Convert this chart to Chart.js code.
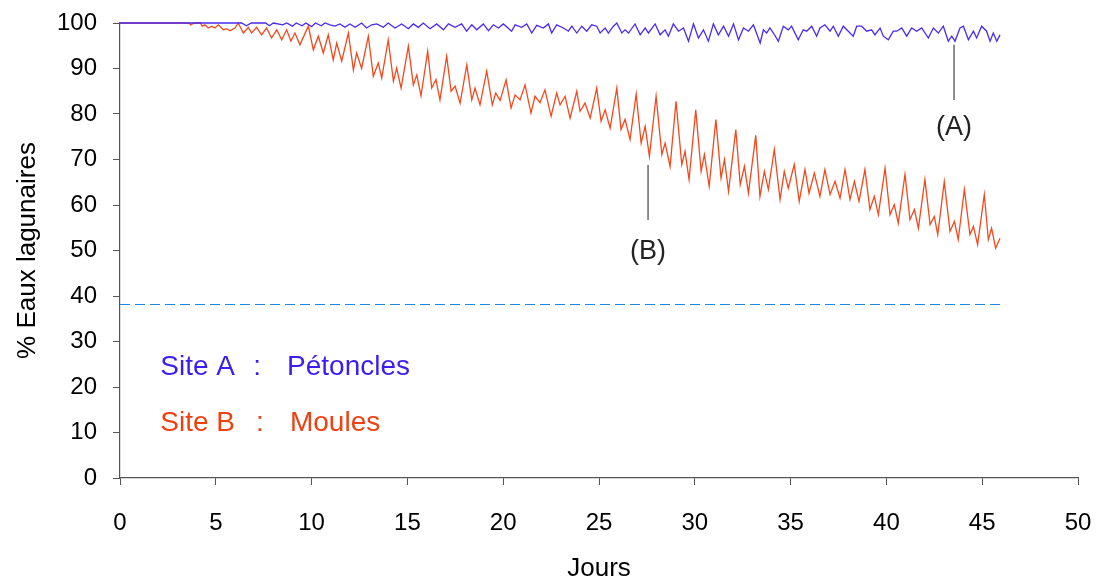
<!DOCTYPE html>
<html lang="fr">
<head>
<meta charset="utf-8">
<title>Eaux lagunaires</title>
<script src="https://cdn.jsdelivr.net/npm/chart.js@4.4.0/dist/chart.umd.min.js"></script>
<style>
    html, body { margin: 0; padding: 0; background: #fff; }
    #wrap { width: 1099px; height: 582px; }
</style>
</head>
<body>
<div id="wrap"><canvas id="lagunaChart" width="1099" height="582"></canvas></div>
<script>
// Site A (Pétoncles) : jours / % eaux lagunaires
const joursA = [0, 6.35, 6.6, 6.85, 7.6, 7.8, 8.0, 8.5, 8.7, 9.0, 9.2, 9.5, 9.7, 10.0, 10.2, 10.5, 10.7,
    10.96, 11.22, 11.48, 11.74, 12.0, 12.27, 12.61, 12.87, 13.14, 13.40, 13.74, 14.0, 14.35, 14.7, 15.05, 15.31,
    15.57, 15.83, 16.18, 16.53, 16.88, 17.14, 17.49, 17.83, 18.09, 18.36, 18.62, 18.96, 19.23, 19.49, 19.75, 20.01,
    20.44, 20.62, 20.97, 21.23, 21.49, 21.75, 22.1, 22.36, 22.53, 22.79, 23.14, 23.4, 23.58, 23.84, 24.1, 24.36,
    24.62, 24.88, 25.06, 25.32, 25.49, 25.75, 25.93, 26.19, 26.36, 26.54, 26.88, 27.15, 27.41, 27.58, 27.93, 28.19,
    28.45, 28.62, 28.88, 29.15, 29.41, 29.67, 29.93, 30.19, 30.45, 30.71, 30.97, 31.23, 31.5, 31.76, 32.02, 32.28,
    32.54, 32.8, 33.06, 33.41, 33.58, 33.75, 33.92, 34.1, 34.36, 34.62, 34.88, 35.05, 35.4, 35.66, 35.84, 36.1,
    36.36, 36.53, 36.79, 37.06, 37.23, 37.49, 37.75, 38.01, 38.27, 38.45, 38.71, 38.97, 39.23, 39.4, 39.67, 39.84,
    40.1, 40.36, 40.54, 40.8, 41.06, 41.32, 41.58, 41.84, 42.19, 42.45, 42.71, 42.97, 43.23, 43.41, 43.58, 43.84,
    44.02, 44.28, 44.54, 44.71, 44.97, 45.23, 45.41, 45.58, 45.76, 45.93];
const valeursA = [100, 100, 99.4, 100, 100, 99.4, 100, 99.6, 100, 99.3, 100, 99.4, 100, 99.2, 100, 99.4, 100,
    99.6, 99.3, 99.8, 99.05, 99.8, 99.05, 100, 98.9, 99.6, 99.8, 99.05, 100, 98.9, 99.8, 98.75, 99.8,
    99.05, 100, 98.75, 99.8, 98.5, 99.8, 99.05, 99.8, 98.2, 99.6, 98.5, 99.8, 98.3, 99.6, 98.9, 99.8,
    98.2, 99.6, 99.05, 99.8, 97.8, 99.5, 98.9, 99.8, 97.8, 99.6, 98.9, 98.2, 99.3, 97.8, 99.3, 98.2,
    99.6, 99.3, 97.8, 98.9, 97.8, 99.3, 100, 97.8, 98.5, 97.8, 99.8, 97.4, 98.9, 97.8, 99.8, 97.4,
    98.5, 97.1, 99.8, 98.2, 98.9, 96.0, 99.8, 96.7, 98.5, 96.0, 99.8, 97.4, 99.3, 97.1, 99.8, 96.3,
    98.9, 98.2, 99.6, 95.6, 98.5, 97.8, 98.9, 97.8, 96.0, 99.3, 98.5, 99.3, 96.3, 98.5, 98.2, 99.3,
    97.1, 98.9, 99.6, 98.2, 99.3, 97.1, 99.3, 98.2, 97.1, 99.3, 99.3, 98.2, 98.5, 97.4, 98.9, 97.1,
    96.3, 98.2, 98.2, 98.9, 97.1, 98.9, 98.2, 98.9, 96.7, 98.9, 97.8, 99.3, 96.0, 97.1, 96.0, 98.9,
    99.3, 96.3, 98.2, 96.7, 99.3, 98.2, 96.0, 97.8, 96.0, 97.4];

// Site B (Moules)
const joursB = [0, 3.6, 3.7, 3.85, 4.2, 4.29, 4.43, 4.61, 4.78, 4.96, 5.13, 5.39, 5.57, 5.74, 6.0, 6.17, 6.44,
    6.7, 6.87, 7.13, 7.39, 7.65, 7.91, 8.18, 8.44, 8.7, 8.92, 9.13, 9.39, 9.83, 10.09, 10.35, 10.61, 10.87, 11.13,
    11.31, 11.57, 11.92, 12.18, 12.35, 12.61, 12.96, 13.22, 13.48, 13.66, 14.0, 14.27, 14.44, 14.67, 15.05, 15.31,
    15.49, 15.71, 16.06, 16.27, 16.49, 16.7, 17.05, 17.28, 17.49, 17.75, 18.1, 18.36, 18.53, 18.79, 19.14, 19.43,
    19.61, 19.84, 20.15, 20.41, 20.62, 20.88, 21.14, 21.45, 21.66, 21.92, 22.18, 22.5, 22.79, 22.97, 23.23, 23.49,
    23.84, 24.01, 24.27, 24.54, 24.88, 25.11, 25.32, 25.58, 25.93, 26.15, 26.36, 26.62, 26.94, 27.2, 27.41, 27.63,
    27.98, 28.28, 28.45, 28.71, 29.02, 29.32, 29.49, 29.7, 30.05, 30.33, 30.5, 30.75, 31.1, 31.37, 31.55, 31.76,
    32.14, 32.37, 32.59, 32.8, 33.18, 33.40, 33.63, 33.84, 34.15, 34.45, 34.67, 34.88, 35.19, 35.45, 35.75, 35.96,
    36.24, 36.53, 36.79, 37.06, 37.32, 37.58, 37.84, 38.1, 38.33, 38.57, 38.88, 39.14, 39.37, 39.58, 39.93, 40.19,
    40.41, 40.62, 40.97, 41.23, 41.46, 41.67, 42.01, 42.28, 42.5, 42.68, 43.02, 43.32, 43.55, 43.75, 44.07, 44.36,
    44.54, 44.76, 45.11, 45.32, 45.49, 45.7, 45.93];
const valeursB = [100, 100, 99.6, 100, 100, 99.3, 99.6, 98.9, 99.3, 98.9, 99.6, 98.5, 98.75, 98.3, 98.9, 100, 97.8,
    99.05, 97.8, 99.05, 97.4, 98.9, 96.7, 98.5, 96.3, 98.5, 96.0, 97.8, 95.2, 99.3, 94.1, 97.1, 93.4, 97.4, 91.9,
    95.6, 91.6, 97.8, 89.7, 93.4, 90.0, 97.1, 88.3, 91.2, 87.9, 96.3, 87.2, 90.1, 85.7, 94.9, 86.4,
    88.6, 84.0, 93.8, 85.7, 87.6, 83.1, 92.7, 85.0, 86.1, 82.4, 90.8, 83.1, 85.7, 82.0, 89.4, 82.0,
    84.6, 83.0, 87.5, 81.3, 84.2, 83.1, 86.4, 80.2, 83.9, 82.5, 85.3, 79.5, 84.6, 82.0, 83.9, 79.1,
    85.0, 80.6, 82.4, 79.1, 85.7, 78.4, 80.9, 76.9, 85.7, 76.6, 78.8, 74.4, 84.4, 73.6, 77.3, 70.7,
    83.9, 71.1, 73.6, 68.5, 82.8, 68.9, 71.8, 65.6, 80.9, 67.4, 71.1, 64.1, 78.8, 65.9, 70.0, 63.0,
    76.6, 64.5, 68.5, 62.6, 75.3, 61.9, 67.4, 63.4, 72.2, 61.2, 67.4, 63.7, 68.9, 60.8, 67.8, 62.6,
    67.0, 61.9, 67.8, 62.3, 65.2, 61.5, 67.8, 61.2, 65.2, 60.8, 67.8, 59.0, 61.9, 57.9, 68.1, 57.9,
    60.1, 56.0, 66.7, 56.8, 59.0, 54.9, 65.6, 55.7, 57.5, 53.5, 65.1, 54.2, 56.4, 52.4, 63.4, 53.5,
    55.3, 51.3, 62.3, 52.4, 54.9, 50.5, 52.7];

// seuil en pointillés
const seuilJours = [0, 46.2];
const seuilValeurs = [38.13, 38.13];

const toPoints = (xs, ys) => xs.map((x, i) => ({ x: x, y: ys[i] }));

const FONT = "'Liberation Sans', Arial, sans-serif";

// textes et repères dessinés dans le graphique
const annotations = {
    id: 'annotations',
    afterDatasetsDraw(chart) {
        const { ctx, scales: { x, y } } = chart;
        ctx.save();
        ctx.strokeStyle = '#444';
        ctx.lineWidth = 1.2;
        ctx.beginPath();
        ctx.moveTo(x.getPixelForValue(43.53), y.getPixelForValue(95.2));
        ctx.lineTo(x.getPixelForValue(43.53), y.getPixelForValue(83.1));
        ctx.moveTo(x.getPixelForValue(27.56), y.getPixelForValue(68.8));
        ctx.lineTo(x.getPixelForValue(27.56), y.getPixelForValue(56.7));
        ctx.stroke();

        ctx.font = '27px ' + FONT;
        ctx.fillStyle = '#222';
        ctx.textAlign = 'center';
        ctx.textBaseline = 'middle';
        ctx.fillText('(A)', x.getPixelForValue(43.53), y.getPixelForValue(77.1));
        ctx.fillText('(B)', x.getPixelForValue(27.56), y.getPixelForValue(49.7));

        ctx.font = '28px ' + FONT;
        ctx.textAlign = 'left';
        ctx.fillStyle = '#3A1EF0';
        ctx.fillText('Site A', x.getPixelForValue(2.1), y.getPixelForValue(24.4));
        ctx.fillText(':', x.getPixelForValue(6.95), y.getPixelForValue(24.4));
        ctx.fillText('Pétoncles', x.getPixelForValue(8.72), y.getPixelForValue(24.4));
        ctx.fillStyle = '#EE4010';
        ctx.fillText('Site B', x.getPixelForValue(2.1), y.getPixelForValue(12.1));
        ctx.fillText(':', x.getPixelForValue(7.1), y.getPixelForValue(12.1));
        ctx.fillText('Moules', x.getPixelForValue(8.87), y.getPixelForValue(12.1));
        ctx.restore();
    }
};

document.addEventListener('DOMContentLoaded', function () {
    const ctx = document.getElementById('lagunaChart').getContext('2d');
    new Chart(ctx, {
        type: 'line',
        data: {
            datasets: [{
                label: 'Site A : Pétoncles',
                data: toPoints(joursA, valeursA),
                borderColor: '#4A2AF2',
                borderWidth: 1.3,
                pointRadius: 0,
                tension: 0,
                clip: false
            }, {
                label: 'Site B : Moules',
                data: toPoints(joursB, valeursB),
                borderColor: '#F4481C',
                borderWidth: 1.3,
                pointRadius: 0,
                tension: 0,
                clip: false
            }, {
                label: 'Seuil',
                data: toPoints(seuilJours, seuilValeurs),
                borderColor: '#1F86E8',
                borderWidth: 1.1,
                borderDash: [10, 5],
                pointRadius: 0
            }]
        },
        options: {
            responsive: false,
            animation: false,
            devicePixelRatio: 1,
            layout: { padding: { top: 23, right: 21, left: 0, bottom: 0 } },
            plugins: {
                legend: { display: false },
                tooltip: { enabled: false }
            },
            scales: {
                x: {
                    type: 'linear',
                    min: 0,
                    max: 50,
                    // zone de tracé fixe : 120 -> 1078 px
                    afterFit: function (scale) {
                        scale.height = 104;
                        scale.paddingLeft = 0;
                        scale.paddingRight = 0;
                    },
                    border: { color: '#555', width: 1.2 },
                    grid: { drawOnChartArea: false, drawTicks: true, tickLength: 7, color: '#555' },
                    ticks: { stepSize: 5, padding: 24, color: '#000', font: { family: FONT, size: 24 } },
                    title: {
                        display: true,
                        text: 'Jours',
                        color: '#000',
                        padding: { top: 0, bottom: 0 },
                        font: { family: FONT, size: 26, lineHeight: 1.05 }
                    }
                },
                y: {
                    min: 0,
                    max: 100,
                    afterFit: function (scale) {
                        scale.width = 120;
                        scale.paddingTop = 0;
                        scale.paddingBottom = 0;
                    },
                    border: { color: '#555', width: 1.2 },
                    grid: { drawOnChartArea: false, drawTicks: true, tickLength: 7, color: '#555' },
                    ticks: { stepSize: 10, padding: 16, color: '#000', font: { family: FONT, size: 24 } },
                    title: {
                        display: true,
                        text: '% Eaux lagunaires',
                        color: '#000',
                        padding: { top: 12, bottom: 0 },
                        font: { family: FONT, size: 26 }
                    }
                }
            }
        },
        plugins: [annotations]
    });
});
</script>
</body>
</html>
